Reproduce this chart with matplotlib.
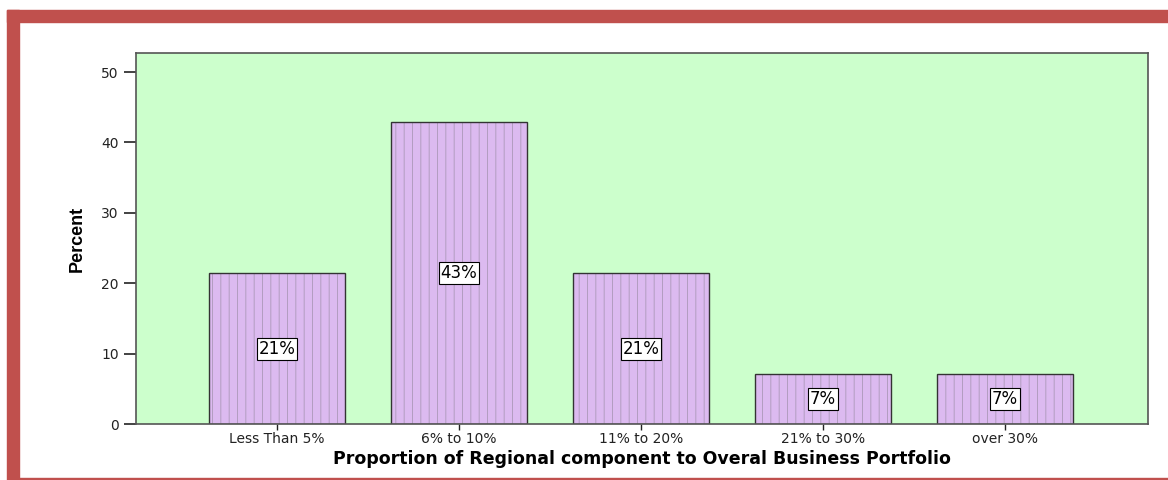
import matplotlib.pyplot as plt
from matplotlib.patches import Rectangle

# data
categories = ["Less Than 5%", "6% to 10%", "11% to 20%", "21% to 30%", "over 30%"]
percents = [21.43, 42.86, 21.43, 7.14, 7.14]
bar_labels = ["21%", "43%", "21%", "7%", "7%"]

plt.rcParams["hatch.linewidth"] = 0.6

fig = plt.figure(figsize=(11.68, 4.8), dpi=100)
W, H = 1168, 480

# red frame (top + left + thin bottom line)
red = "#c0504d"
fig.patches.append(Rectangle((7 / W, 1 - 22 / H), 1 - 7 / W, 12 / H,
                             transform=fig.transFigure, color=red, zorder=0))
fig.patches.append(Rectangle((7 / W, 0), 12 / W, 1 - 10 / H,
                             transform=fig.transFigure, color=red, zorder=0))
fig.patches.append(Rectangle((19 / W, 0), 1 - 19 / W, 2 / H,
                             transform=fig.transFigure, color=red, zorder=0))

ax = fig.add_axes([136 / W, 1 - 424 / H, (1148 - 136) / W, (424 - 53) / H])
ax.set_facecolor("#ccffcc")

x = list(range(len(categories)))
# fill + light hatch, then the dark outline on top
ax.bar(x, percents, width=0.75, color="#dcbaf0", edgecolor="#ab98b8",
       linewidth=0, hatch="||", zorder=2)
ax.bar(x, percents, width=0.75, fill=False, edgecolor="#333333",
       linewidth=1.0, zorder=2.5)

for xi, p, lab in zip(x, percents, bar_labels):
    ax.text(xi, p / 2, lab, ha="center", va="center", fontsize=12,
            zorder=3,
            bbox=dict(boxstyle="square,pad=0.12", facecolor="white",
                      edgecolor="black", linewidth=0.8))

ax.set_xlim(-0.775, 4.786)
ax.set_ylim(0, 52.7)
ax.set_yticks([0, 10, 20, 30, 40, 50])
ax.set_xticks(x)
ax.set_xticklabels(categories, fontsize=10)
ax.tick_params(axis="y", labelsize=10, length=9, width=1.2, colors="#222222")
ax.tick_params(axis="x", length=4, width=1, colors="#222222", pad=2)
for s in ax.spines.values():
    s.set_color("#555555")
    s.set_linewidth(1.2)

ax.set_ylabel("Percent", fontsize=13, fontweight="bold", fontfamily="Liberation Sans",
              labelpad=11)
ax.set_xlabel("Proportion of Regional component to Overal Business Portfolio",
              fontsize=12.5, fontweight="bold", labelpad=3)

fig.savefig("out.png", dpi=100)
